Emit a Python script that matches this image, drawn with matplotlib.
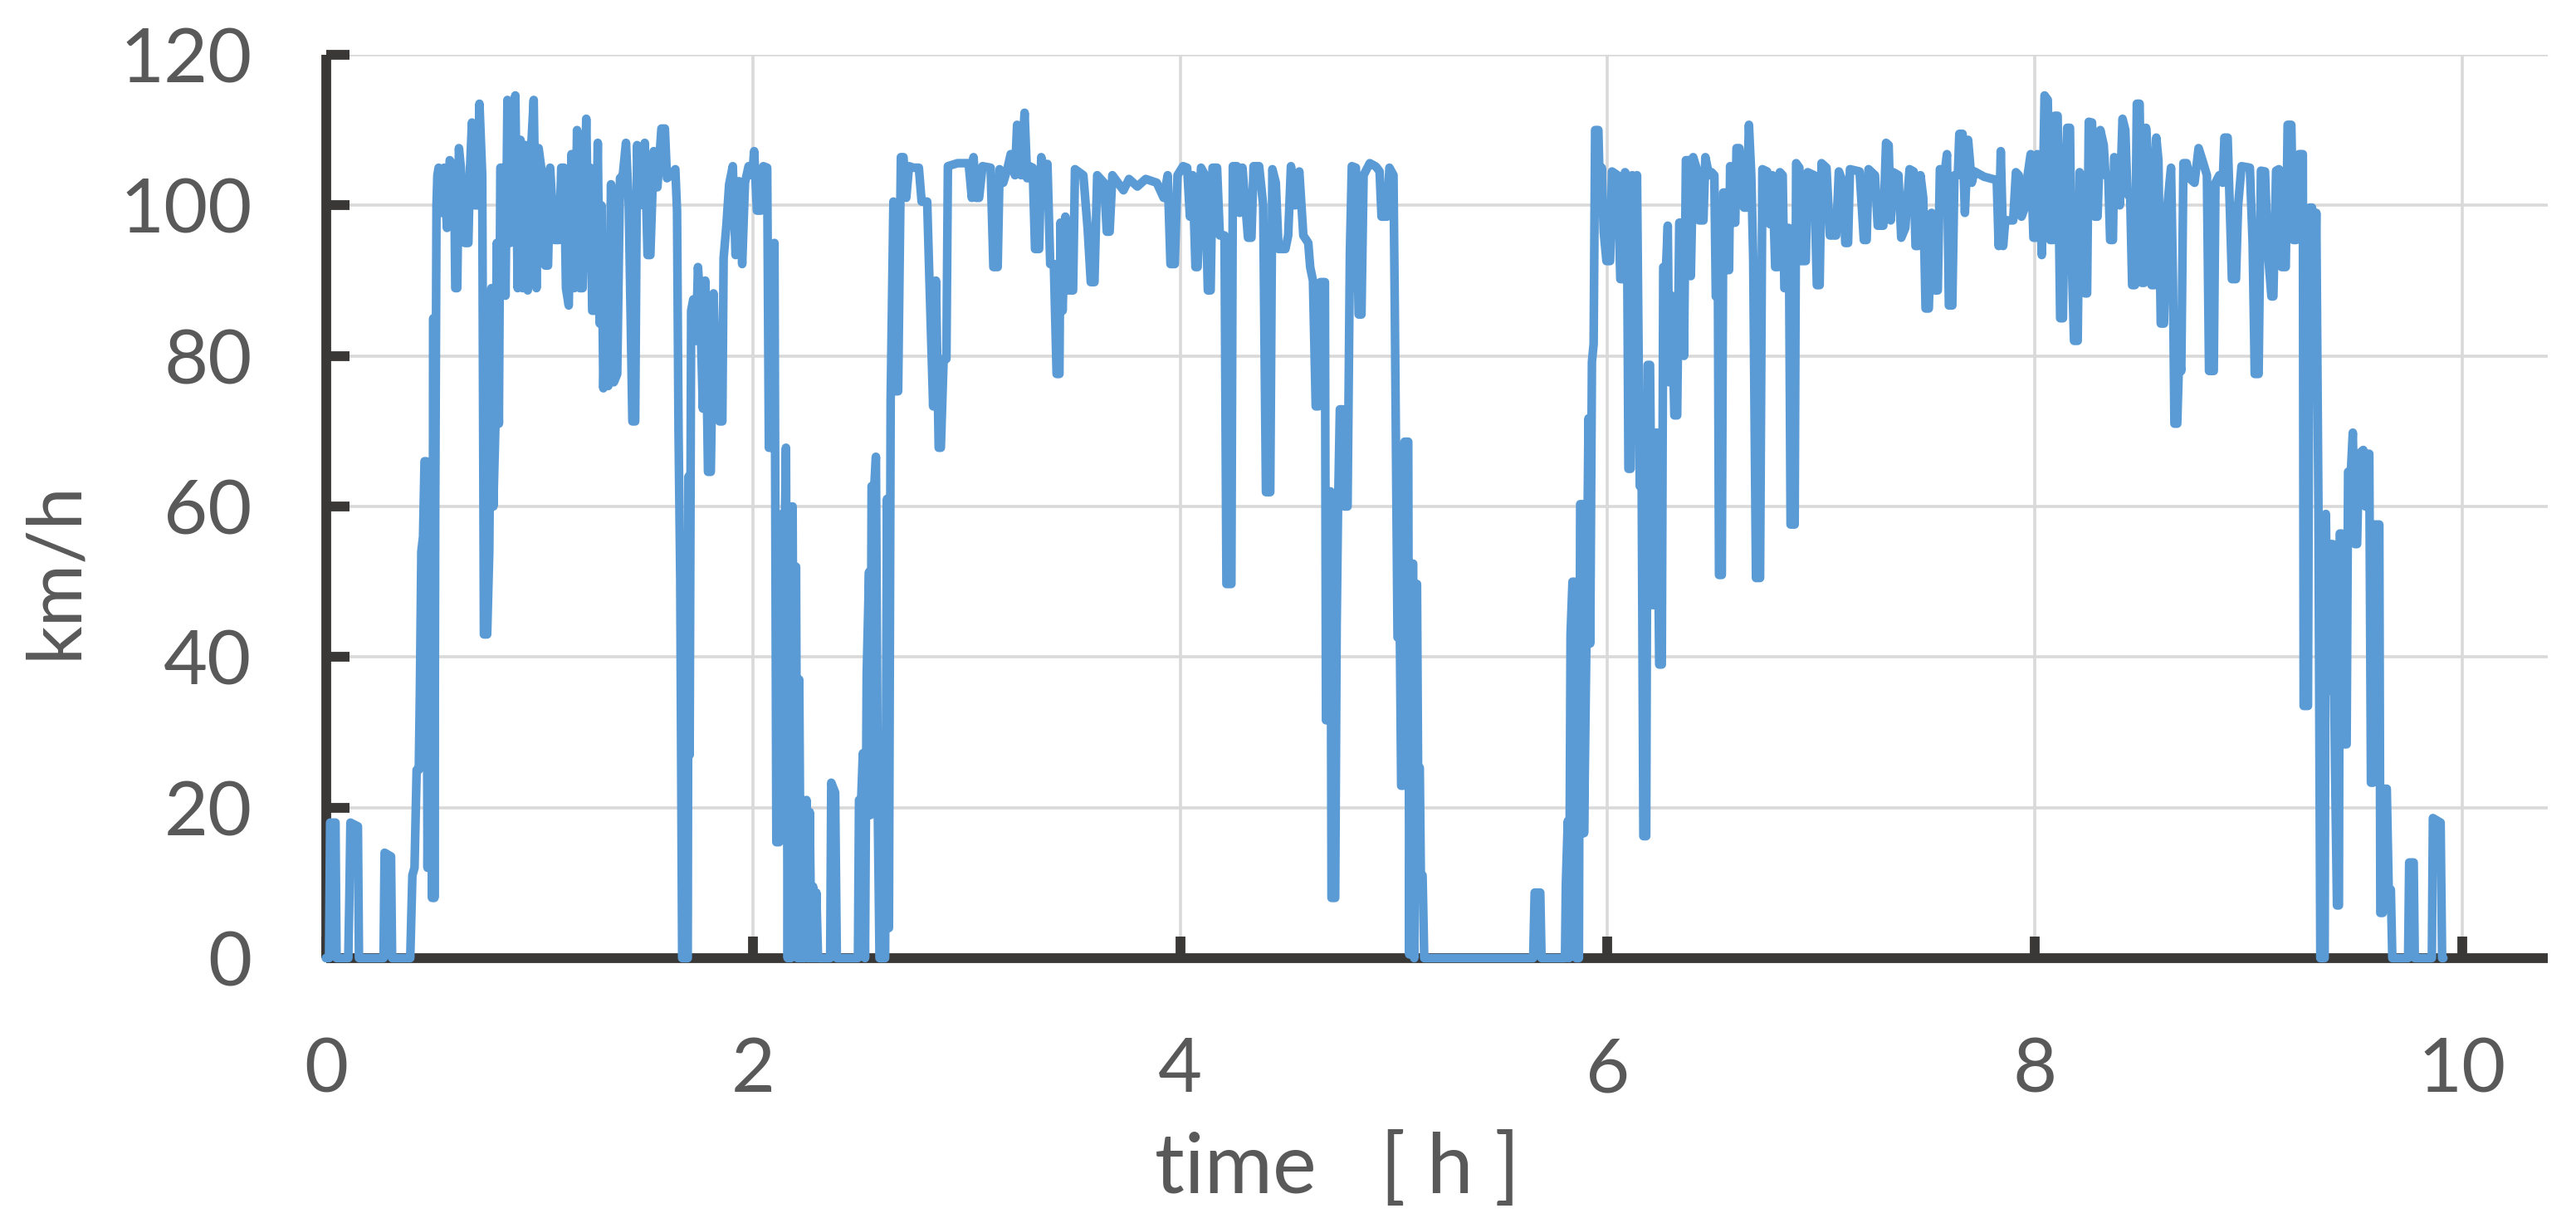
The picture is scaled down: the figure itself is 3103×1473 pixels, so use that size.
import matplotlib
matplotlib.use("Agg")
import matplotlib.pyplot as plt

# speed trace (time in h, speed in km/h)
t1 = [0.000, 0.015, 0.020, 0.045, 0.050, 0.105, 0.110, 0.115, 0.150, 0.155,
      0.270, 0.275, 0.305, 0.310, 0.395, 0.405, 0.415, 0.425, 0.435, 0.440,
      0.447, 0.455, 0.462, 0.470, 0.476, 0.482, 0.490, 0.497, 0.503, 0.508,
      0.512, 0.518, 0.522, 0.528, 0.541, 0.554, 0.567, 0.580, 0.600, 0.606,
      0.615, 0.623, 0.632, 0.651, 0.667, 0.675, 0.684, 0.697, 0.710, 0.719,
      0.732, 0.740, 0.755, 0.765, 0.775, 0.784, 0.794, 0.800, 0.810, 0.817,
      0.833, 0.841, 0.850, 0.863, 0.872, 0.887, 0.898, 0.911, 0.921, 0.934,
      0.945, 0.956, 0.973, 0.986, 0.996, 1.008, 1.027, 1.040, 1.050, 1.069,
      1.092, 1.102, 1.115, 1.124, 1.137, 1.150, 1.163, 1.176, 1.189, 1.202,
      1.219, 1.228, 1.237, 1.247, 1.260, 1.273, 1.282, 1.290, 1.299, 1.312,
      1.322, 1.335, 1.348, 1.364, 1.377, 1.390, 1.405, 1.418, 1.435, 1.448,
      1.457, 1.470, 1.480, 1.493, 1.506, 1.519, 1.535, 1.552, 1.571, 1.587,
      1.597, 1.616, 1.636, 1.644, 1.651, 1.659]
v1 = [0, 0, 18, 18, 0, 0, 8, 18, 17.5, 0,
      0, 14, 13.5, 0, 0, 11, 12, 25, 25, 35,
      54, 56, 66, 66, 12, 40, 60, 8, 85, 8,
      60, 100, 104, 105, 99, 105, 97, 106, 105, 89,
      89, 107.6, 105, 95, 95, 105, 111, 100, 100, 113.5,
      104, 43, 43, 54, 89, 60, 71, 95, 71, 105,
      105, 88, 114, 95, 105, 114.6, 89, 108.7, 89, 108,
      88.7, 105, 114, 89, 107.6, 105, 92, 92, 105, 95.4,
      95.4, 105, 105, 89, 86.7, 106.8, 89, 110, 89, 89,
      111.5, 95.4, 105, 86, 86, 108.3, 84.3, 100, 75.7, 91.8,
      76, 102.8, 76.5, 77.6, 103.6, 104, 108.3, 100, 71.3, 71.3,
      108, 100, 104, 108.3, 93.4, 93.4, 107.2, 102.4, 110.2, 110.2,
      103.6, 104, 104.8, 99.3, 70, 50.5]

t2 = [1.668, 1.694, 1.698, 1.703, 1.710, 1.720, 1.733, 1.742, 1.752, 1.765,
      1.776, 1.789, 1.802, 1.815, 1.828, 1.843, 1.856, 1.862, 1.875, 1.888,
      1.905, 1.918, 1.934, 1.949, 1.962, 1.979, 1.996, 2.005, 2.018, 2.037,
      2.048, 2.066, 2.074, 2.087, 2.100, 2.109, 2.122, 2.135, 2.144, 2.154,
      2.162, 2.170, 2.177, 2.185, 2.193, 2.201, 2.208, 2.216, 2.224, 2.232,
      2.239, 2.250, 2.258, 2.265, 2.273, 2.281, 2.287, 2.296, 2.304, 2.361,
      2.366, 2.384, 2.392, 2.491, 2.496, 2.506, 2.514, 2.524, 2.532, 2.543,
      2.549, 2.555, 2.566, 2.575, 2.584, 2.592, 2.618, 2.627, 2.636, 2.644,
      2.657, 2.666, 2.679, 2.692, 2.704, 2.717, 2.730, 2.750, 2.776, 2.789,
      2.815, 2.825, 2.843, 2.856, 2.869, 2.879, 2.892, 2.905, 2.912, 2.957,
      3.009, 3.024, 3.032, 3.045, 3.058, 3.074, 3.112, 3.125, 3.145, 3.154,
      3.171, 3.190, 3.206, 3.226, 3.236, 3.255, 3.271, 3.283]
v2 = [0, 0, 64, 27, 86, 87.5, 82, 91.8, 87, 73,
      90, 64.6, 64.6, 88.3, 75.7, 71.3, 71.3, 93, 97.3, 102.8,
      105.2, 93.4, 103.2, 92.2, 103, 105.2, 104, 107.2, 99.3, 99.3,
      105.2, 105, 67.8, 67.8, 95, 15.4, 15.4, 59, 48, 67.8,
      0, 60, 0, 60, 1, 52, 0, 37, 0, 21,
      0, 21, 0, 19.4, 0, 9.5, 0, 8.7, 0, 0,
      23.3, 22, 0, 0, 21, 21, 27.2, 0, 37.9, 51.3,
      19, 62.7, 62, 66.6, 19, 0, 0, 61, 4, 74,
      100.5, 75.3, 75.3, 106.4, 106.4, 101, 105.2, 105, 105, 100.5,
      100.5, 90.6, 73.3, 90, 67.8, 67.8, 79.6, 79.6, 105.2, 105.6,
      105.6, 101, 106.4, 101, 101, 105.2, 105, 91.8, 91.8, 104.8,
      103, 104.8, 106.8, 104, 110.7, 104, 112.3, 103.6]

t3 = [3.294, 3.309, 3.320, 3.339, 3.349, 3.365, 3.378, 3.391, 3.408, 3.421,
      3.434, 3.439, 3.449, 3.462, 3.475, 3.498, 3.507, 3.546, 3.566, 3.581,
      3.598, 3.611, 3.643, 3.656, 3.669, 3.682, 3.734, 3.760, 3.799, 3.838,
      3.890, 3.922, 3.941, 3.954, 3.974, 3.987, 4.013, 4.032, 4.045, 4.058,
      4.071, 4.081, 4.097, 4.116, 4.129, 4.142, 4.151, 4.172, 4.185, 4.207,
      4.216, 4.239, 4.246, 4.265, 4.278, 4.291, 4.317, 4.333, 4.343, 4.369,
      4.388, 4.401, 4.421, 4.431, 4.447, 4.460, 4.492, 4.505, 4.518, 4.537,
      4.557, 4.576, 4.599, 4.608, 4.621, 4.634, 4.647, 4.656, 4.677, 4.682,
      4.693, 4.703, 4.708, 4.725, 4.732, 4.738, 4.747, 4.760, 4.768, 4.783,
      4.794, 4.803, 4.822, 4.835, 4.848, 4.858, 4.887, 4.913]
v3 = [105.2, 105, 94.2, 94.2, 106.4, 104, 105.5, 92.2, 92.2, 77.6,
      77.6, 97.7, 86, 98.5, 88.7, 88.7, 104.8, 104, 97, 89.8,
      89.8, 104, 103, 96.5, 96.5, 104, 102, 103.5, 102.5, 103.5,
      103, 101, 104, 92.2, 92.2, 104, 105.2, 105, 98.5, 104,
      91.8, 91.8, 105, 104, 88.7, 88.7, 105, 105, 96, 96,
      49.7, 49.7, 105.2, 105.2, 99, 105, 95.7, 95.7, 105.2, 105.2,
      100, 61.9, 61.9, 104.8, 103, 94.2, 94.2, 96, 105.2, 100,
      104.5, 96, 95, 91.8, 90, 73.3, 73.3, 89.8, 89.8, 31.6,
      31.6, 62, 8, 8, 44.2, 59, 72.9, 72.9, 60, 60,
      93.8, 105.2, 105, 85.5, 85.5, 104, 105.6, 105.2]

t4 = [4.920, 4.933, 4.942, 4.968, 4.979, 4.998, 5.004, 5.017, 5.028, 5.034,
      5.043, 5.050, 5.067, 5.072, 5.080, 5.090, 5.095, 5.102, 5.108, 5.113,
      5.121, 5.126, 5.134, 5.142, 5.652, 5.659, 5.685, 5.691, 5.801, 5.805,
      5.814, 5.820, 5.827, 5.836, 5.846, 5.853, 5.866, 5.872, 5.885, 5.890,
      5.901, 5.911, 5.919, 5.927, 5.935, 5.942, 5.957, 5.966, 5.973, 5.982,
      5.995, 6.012, 6.021, 6.047, 6.060, 6.073, 6.082, 6.090, 6.098, 6.108,
      6.116, 6.129, 6.138, 6.151, 6.160, 6.168, 6.181, 6.188, 6.199, 6.209,
      6.216, 6.225, 6.232, 6.242, 6.254, 6.261, 6.274, 6.282, 6.289, 6.300,
      6.313, 6.326, 6.336, 6.352, 6.358, 6.367, 6.384, 6.390, 6.401, 6.416,
      6.429, 6.449, 6.458, 6.475]
v4 = [105, 104.5, 98.5, 98.5, 105, 104, 86.7, 42.6, 42.6, 22.9,
      22.9, 68.6, 68.6, 0.5, 52.4, 52.4, 0, 49.7, 49.7, 25.3,
      25.3, 11, 11, 0, 0, 8.7, 8.7, 0, 0, 9.9,
      18.2, 0, 43, 50, 50, 0, 0, 60.3, 60.3, 16.6,
      41.8, 71.7, 41.8, 79.2, 81.6, 110, 110, 99.5, 105, 96.5,
      92.6, 92.6, 104.5, 104, 90.2, 90.2, 104.4, 104, 65, 65,
      104, 79.6, 104, 62.7, 62.7, 16.2, 16.2, 78.8, 78.8, 46.9,
      46.9, 69.8, 69.8, 39, 39, 91.8, 91.8, 97.3, 76.5, 88,
      72.1, 72.1, 97.7, 97.7, 80, 106, 106, 90.6, 106.4, 105,
      98, 98, 106.4, 104]

t5 = [6.487, 6.500, 6.507, 6.517, 6.522, 6.535, 6.542, 6.552, 6.559, 6.569,
      6.574, 6.585, 6.598, 6.604, 6.617, 6.630, 6.639, 6.652, 6.662, 6.673,
      6.682, 6.695, 6.714, 6.725, 6.747, 6.760, 6.772, 6.785, 6.798, 6.807,
      6.820, 6.828, 6.841, 6.849, 6.857, 6.876, 6.883, 6.898, 6.906, 6.928,
      6.937, 6.967, 6.980, 6.993, 7.002, 7.025, 7.041, 7.070, 7.083, 7.103,
      7.113, 7.126, 7.135, 7.180, 7.200, 7.213, 7.222, 7.252, 7.265, 7.291,
      7.304, 7.316, 7.326, 7.338, 7.362, 7.375, 7.394, 7.414, 7.433, 7.442,
      7.453, 7.465, 7.478, 7.489, 7.504, 7.517, 7.533, 7.546, 7.556, 7.579,
      7.589, 7.598, 7.614, 7.624, 7.640, 7.647, 7.662, 7.673, 7.688, 7.705,
      7.718, 7.763, 7.802, 7.822, 7.831, 7.841, 7.852, 7.862, 7.899, 7.912,
      7.925, 7.938, 7.951, 7.964, 7.981, 7.994, 8.004, 8.012, 8.025, 8.033,
      8.046, 8.061, 8.072, 8.087, 8.094, 8.107]
v5 = [104.4, 104, 87.9, 87.9, 50.9, 50.9, 101.7, 101.7, 91.4, 91.4,
      105.2, 97.7, 97.7, 107.6, 107.6, 104, 99.7, 99.7, 110.7, 104,
      93, 50.5, 50.5, 104.8, 104.5, 97.5, 104, 91.8, 91.8, 104.4,
      104, 89, 89, 97, 57.6, 57.6, 105.6, 105, 92.6, 92.6,
      104.4, 104, 89.4, 89.4, 105.6, 105, 96, 96, 104.5, 103,
      95, 95, 104.8, 104.5, 95.4, 95.4, 104.8, 104, 97.3, 97.3,
      108.3, 108, 98, 104.4, 104, 95.7, 97, 104.8, 104.5, 94.6,
      94.6, 104, 101, 86.3, 86.3, 99, 88.7, 88.7, 104.8, 104.5,
      106.8, 86.7, 86.7, 104, 104, 109.5, 109.5, 99, 108.7, 103,
      104.5, 103.8, 103.5, 103.4, 94.6, 107.2, 94.6, 98, 98, 104.4,
      104, 98.5, 99.5, 103.5, 106.8, 95.7, 95.7, 106.8, 101, 93.4,
      114.6, 114, 95.4, 95.4, 111.9, 111.9]

t6 = [8.119, 8.132, 8.139, 8.152, 8.165, 8.171, 8.184, 8.201, 8.210, 8.230,
      8.236, 8.245, 8.253, 8.268, 8.281, 8.294, 8.307, 8.323, 8.331, 8.344,
      8.353, 8.366, 8.372, 8.385, 8.398, 8.411, 8.424, 8.434, 8.447, 8.456,
      8.469, 8.478, 8.491, 8.502, 8.512, 8.521, 8.534, 8.547, 8.560, 8.569,
      8.579, 8.590, 8.605, 8.618, 8.631, 8.638, 8.647, 8.654, 8.667, 8.676,
      8.686, 8.696, 8.711, 8.728, 8.748, 8.767, 8.787, 8.806, 8.816, 8.838,
      8.846, 8.864, 8.880, 8.888, 8.903, 8.914, 8.923, 8.942, 8.952, 8.968,
      9.007, 9.020, 9.030, 9.048, 9.059, 9.078, 9.091, 9.108, 9.117, 9.130,
      9.143, 9.156, 9.175, 9.184, 9.201, 9.211, 9.224, 9.237, 9.255, 9.259,
      9.279, 9.287, 9.298, 9.305, 9.318, 9.328, 9.337, 9.357, 9.363, 9.372,
      9.382, 9.395, 9.406, 9.415, 9.424, 9.428, 9.437, 9.445, 9.460, 9.467,
      9.480, 9.489, 9.499, 9.509, 9.518, 9.538, 9.548, 9.557, 9.566, 9.574,
      9.583, 9.592, 9.613, 9.618, 9.629, 9.639, 9.648, 9.657, 9.667, 9.674,
      9.748, 9.753, 9.774, 9.779, 9.859, 9.864, 9.900, 9.907, 9.913]
v6 = [85, 85, 100, 110.3, 110.3, 95, 82, 82, 104.4, 103,
      88.3, 88.3, 111.1, 111, 98.5, 98.5, 110, 108, 104, 104,
      95.4, 95.4, 106.4, 105.5, 100, 111.5, 110, 101.5, 101, 89.4,
      89.4, 113.5, 113.5, 89.7, 89.7, 110.3, 105, 89.4, 89.4, 109,
      106, 84.3, 84.3, 99, 103, 105, 90, 71, 71, 80,
      78, 105.6, 105.6, 103.5, 103, 107.6, 105.8, 104, 78, 78,
      103, 104, 103, 109, 109, 99, 90.2, 90.2, 100, 105.2,
      105, 95, 77.6, 77.6, 104.6, 104.5, 94, 87.9, 87.9, 104.6,
      104.8, 91.8, 91.8, 110.7, 110.7, 95.4, 95.4, 106.8, 106.8, 33.5,
      33.5, 99.7, 99.7, 75, 99, 60, 0, 0, 59, 35.5,
      55, 55, 25, 7, 7, 56.4, 56.4, 28.4, 28.4, 64.6,
      64.6, 69.8, 55, 55, 67, 67.5, 60, 67, 67, 23.3,
      23.3, 57.6, 57.6, 6, 6, 22.5, 22.5, 9.1, 9.1, 0,
      0, 12.7, 12.7, 0, 0, 18.6, 18, 0, 0]

segs = [(t1, v1), (t2, v2), (t3, v3), (t4, v4), (t5, v5), (t6, v6)]
for i, (a, b) in enumerate(segs):
    assert len(a) == len(b), (i + 1, len(a), len(b))
time_h = [x for a, b in segs for x in a]
speed = [y for a, b in segs for y in b]

x_ticks = [0, 2, 4, 6, 8, 10]
y_ticks = [0, 20, 40, 60, 80, 100, 120]

grey = '#595959'
dark = '#393836'
plt.rcParams['font.family'] = ['Lato', 'DejaVu Sans']

fig = plt.figure(figsize=(31.03, 14.73), dpi=100)
ax = fig.add_axes([0.1265, 0.2166, 0.8624, 0.7386])

ax.plot(time_h, speed, color='#5B9BD5', lw=7.5, zorder=3, clip_on=False,
        solid_joinstyle='round', solid_capstyle='round')

ax.set_xlim(0, 10.4)
ax.set_ylim(0, 120)
ax.set_xticks(x_ticks)
ax.set_yticks(y_ticks)
ax.grid(True, color='#D9D9D9', lw=2.6, zorder=0)
ax.set_axisbelow(True)

for s in ['top', 'right']:
    ax.spines[s].set_visible(False)
for s in ['left', 'bottom']:
    ax.spines[s].set_color(dark)
    ax.spines[s].set_linewidth(8.5)
    ax.spines[s].set_capstyle('butt')

ax.tick_params(axis='y', direction='in', length=20, width=8.5, color=dark,
               labelsize=66, labelcolor=grey, pad=64)
ax.tick_params(axis='x', direction='in', length=19, width=8.5, color=dark,
               labelsize=66, labelcolor=grey, pad=68)

fig.text(0.519, 0.0244, 'time   [ h ]', fontsize=72, color=grey,
         ha='center', va='baseline')
fig.text(0.0213, 0.5336, 'km/h', fontsize=66, color=grey, rotation=90,
         ha='center', va='center')

fig.savefig('out.png', dpi=100)
